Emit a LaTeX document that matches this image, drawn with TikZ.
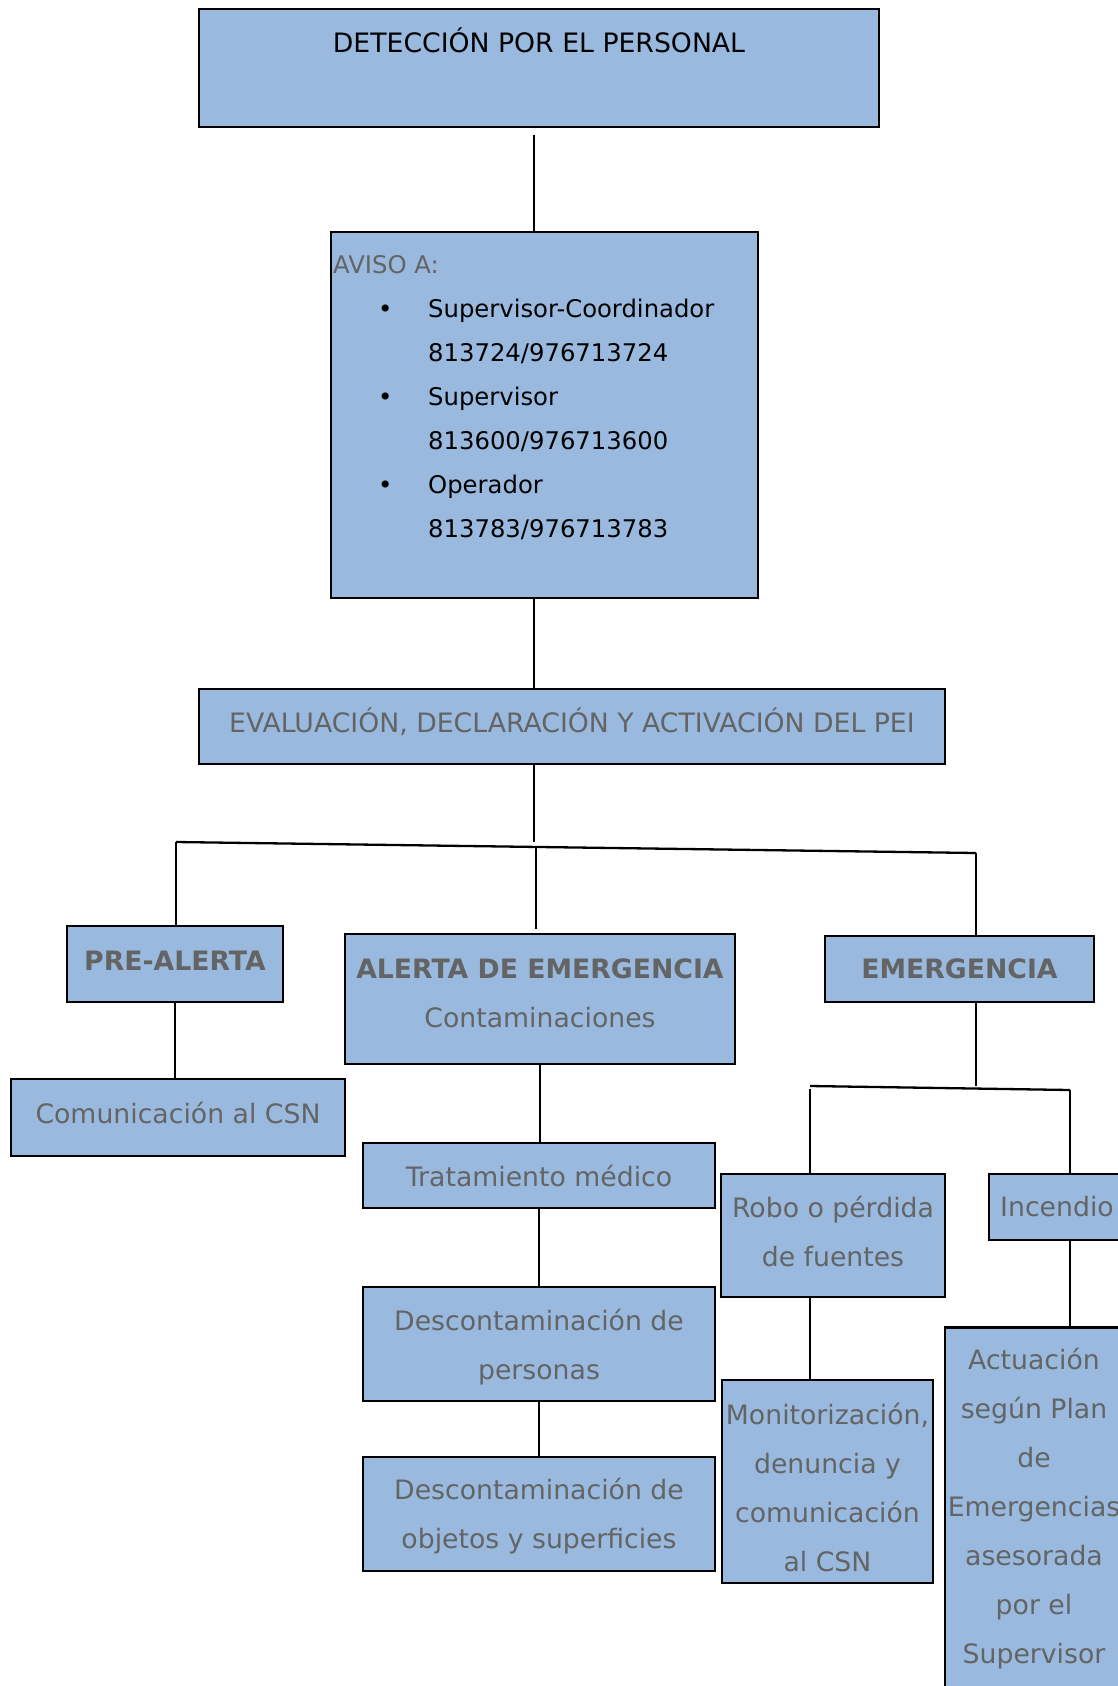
\documentclass[tikz,border=0pt]{standalone}
\usepackage{fontspec}
\setmainfont{DejaVu Sans}
\usepackage{tikz}

\definecolor{boxblue}{RGB}{153,185,222}
\definecolor{txtgray}{RGB}{100,100,100}

\tikzset{
  box/.style={draw=black, line width=2.9pt, fill=boxblue, inner sep=0pt, align=center,
    text=txtgray, font=\fontsize{26.7}{49}\selectfont},
  hdr/.style={box, font=\fontsize{26.7}{49}\selectfont\bfseries},
  conn/.style={line width=2.3pt},
}

\begin{document}
\begin{tikzpicture}[x=1pt, y=-1pt]
  \useasboundingbox (0,0) rectangle (1117,1686);

  % top part
  \node[box, minimum width=680pt, minimum height=118pt] (det) at (539,68) {};
  \node[text=black, font=\fontsize{26.7}{49}\selectfont] (det-t) at (539,40) {DETECCIÓN POR EL PERSONAL};
  \node[box, minimum width=427pt, minimum height=366pt] (avi) at (544.5,415) {};
  \node[anchor=north west, inner sep=0pt, align=left, font=\fontsize{24.3}{44}\selectfont] (avi-t) at (333,255) {%
    \textcolor{txtgray}{AVISO A:}\\
    \makebox[95pt][l]{\hspace{45pt}\textbullet}Supervisor-Coordinador\\
    \hspace*{95pt}813724/976713724\\
    \makebox[95pt][l]{\hspace{45pt}\textbullet}Supervisor\\
    \hspace*{95pt}813600/976713600\\
    \makebox[95pt][l]{\hspace{45pt}\textbullet}Operador\\
    \hspace*{95pt}813783/976713783};
  \node[box, minimum width=746pt, minimum height=75pt, text depth=12pt] (eval) at (572,726.5) {EVALUACIÓN, DECLARACIÓN Y ACTIVACIÓN DEL PEI};

  % levels
  \node[hdr, minimum width=216pt, minimum height=76pt, text depth=6pt] (pre) at (175,964) {PRE-ALERTA};
  \node[box, minimum width=390pt, minimum height=130pt, text depth=12pt] (ale) at (540,999) {\textbf{ALERTA DE EMERGENCIA}\\Contaminaciones};
  \node[hdr, minimum width=269pt, minimum height=66pt] (eme) at (959.5,969) {EMERGENCIA};

  % actions
  \node[box, minimum width=334pt, minimum height=77pt, text depth=8.6pt] (com) at (178,1117.5) {Comunicación al CSN};
  \node[box, minimum width=352pt, minimum height=65pt] (tra) at (539,1175.5) {Tratamiento médico};
  \node[box, minimum width=352pt, minimum height=114pt, text height=77pt] (dper) at (539,1344) {Descontaminación de\\personas};
  \node[box, minimum width=352pt, minimum height=114pt, text height=74.5pt] (dobj) at (539,1514) {Descontaminación de\\objetos y superficies};
  \node[box, minimum width=224pt, minimum height=123pt, text depth=8pt] (robo) at (833,1235.5) {Robo o pérdida\\de fuentes};
  \node[box, minimum width=136pt, minimum height=66pt] (inc) at (1057,1207) {Incendio};
  \node[box, minimum width=211pt, minimum height=203pt, text height=181pt] (mon) at (827.5,1481.5) {Monitorización,\\denuncia y\\comunicación\\al CSN};
  \node[box, anchor=north, minimum width=178pt, minimum height=420pt] (act) at (1034,1326) {};
  \node[text=txtgray, align=center, font=\fontsize{26.7}{49}\selectfont] (act-t) at (1034,1509)
    {Actuación\\según Plan\\de\\Emergencias\\asesorada\\por el\\Supervisor};

  % branch points
  \coordinate (h1) at (534,842);
  \coordinate (bl) at (176,842);
  \coordinate (bm) at (536,848);
  \coordinate (br) at (976,853);
  \coordinate (h2) at (976,1086);
  \coordinate (cl) at (810,1086);
  \coordinate (cr) at (1070,1090);

  % lines
  \draw[conn] ([yshift=-7pt]h1 |- det.south) -- (h1 |- avi.north);
  \draw[conn] (h1 |- avi.south) -- (h1 |- eval.north);
  \draw[conn] (h1 |- eval.south) -- (h1);
  \draw[conn] (bl) -- (br);
  \draw[conn] (bl) -- (bl |- pre.north);
  \draw[conn] (bm) -- ([yshift=4pt]bm |- ale.north);
  \draw[conn] (br) -- (br |- eme.north);
  \draw[conn] (pre.south) -- (pre.south |- com.north);
  \draw[conn] (ale.south) -- (ale.south |- tra.north);
  \draw[conn] (tra.south) -- (dper.north);
  \draw[conn] (dper.south) -- (dobj.north);
  \draw[conn] (h2 |- eme.south) -- (h2);
  \draw[conn] (cl) -- (cr);
  \draw[conn] ([yshift=-3pt]cl) -- (cl |- robo.north);
  \draw[conn] (cr) -- (cr |- inc.north);
  \draw[conn] (cl |- robo.south) -- (cl |- mon.north);
  \draw[conn] (cr |- inc.south) -- (cr |- act.north);
\end{tikzpicture}
\end{document}
